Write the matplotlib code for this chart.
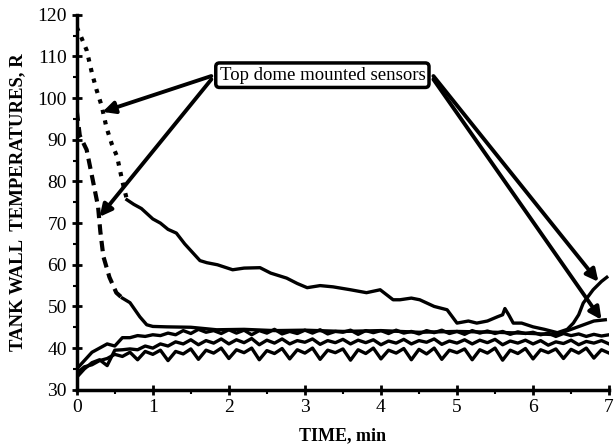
import numpy as np
import matplotlib
matplotlib.use("Agg")
import matplotlib.pyplot as plt
from matplotlib.ticker import MultipleLocator

plt.rcParams['font.family'] = ['Liberation Serif', 'DejaVu Serif']

# top dome sensor, slow decay (dotted at start)
a_t = [0, 0.05, 0.13, 0.2, 0.26, 0.33, 0.39, 0.46, 0.53, 0.6,
       0.66, 0.75, 0.85, 1.0, 1.1, 1.2, 1.31, 1.42, 1.53, 1.62,
       1.71, 1.85, 2.05, 2.2, 2.41, 2.55, 2.76, 2.9, 3.03, 3.2,
       3.37, 3.6, 3.81, 3.99, 4.16, 4.25, 4.4, 4.51, 4.7, 4.87,
       5.0, 5.15, 5.26, 5.4, 5.53, 5.6, 5.63, 5.68, 5.74, 5.85,
       6.0, 6.15, 6.32, 6.45, 6.53, 6.6, 6.66, 6.79, 6.9, 6.97]
a_v = [117, 115, 111.5, 106, 102, 98, 93, 89, 86, 80,
       75.6, 74.5, 73.5, 71, 70, 68.5, 67.6, 65, 62.8, 61,
       60.5, 60, 58.8, 59.2, 59.3, 58, 56.8, 55.5, 54.5, 55,
       54.7, 54, 53.3, 54, 51.6, 51.6, 52, 51.6, 50, 49.2,
       46, 46.5, 46, 46.5, 47.5, 48, 49.5, 48, 46, 46,
       45.1, 44.5, 43.7, 44.5, 46, 48, 50.8, 54, 56, 57]

# top dome sensor, fast decay (dashed at start)
b_t = [0, 0.04, 0.13, 0.21, 0.28, 0.31, 0.35, 0.43, 0.52, 0.6,
       0.7, 0.83, 0.92, 1.0, 1.18, 1.5, 1.84, 2.2, 2.6, 3.0,
       3.5, 4.0, 4.5, 5.0, 5.5, 6.0, 6.3, 6.5, 6.65, 6.8, 6.95]
b_v = [97, 91, 87.6, 80.4, 74, 68, 62, 57, 53.3, 52,
       50.9, 47.5, 45.6, 45.2, 45.1, 45, 44.4, 44.5, 44.2, 44.3,
       44, 44.2, 43.8, 44, 43.8, 43.5, 43.2, 44.5, 45.5, 46.5, 46.8]

# other wall sensors, sampled every 0.1 min
t = np.round(np.arange(0, 7.01, 0.1), 2)
c_v = [35, 37, 39, 40, 41, 40.5, 42.5, 42.5, 43, 42.8,
       43.2, 43, 43.6, 43.2, 44.2, 43.5, 44.5, 43.8, 44.2, 43.5,
       44.4, 43.6, 44.3, 43.2, 44.2, 43.6, 44.5, 43.4, 44.0, 43.5,
       44.3, 43.6, 44.4, 43.4, 44.0, 43.8, 44.3, 43.3, 44.2, 43.7,
       44.2, 43.5, 44.3, 43.6, 44.0, 43.4, 44.2, 43.7, 44.3, 43.5,
       44.0, 43.3, 44.2, 43.6, 44.1, 43.5, 44.0, 43.3, 43.9, 43.5,
       43.8, 43.2, 43.6, 42.8, 43.5, 43.0, 43.4, 42.8, 43.3, 42.9, 43.2]
d_v = [33, 35, 36.5, 37.2, 35.8, 39.5, 39.6, 39.8, 39.6, 40.5,
       40, 41, 40.5, 41.5, 41, 42, 40.8, 41.8, 41.2, 42.2,
       41, 42, 41.3, 42.3, 40.8, 41.9, 41.2, 42.2, 41, 41.8,
       41.4, 42.2, 40.9, 41.8, 41.3, 42.1, 41, 41.9, 41.3, 42,
       40.8, 41.7, 41.2, 42.1, 41, 41.8, 41.4, 42.2, 40.9, 41.7,
       41.2, 42, 41, 41.9, 41.3, 42.1, 40.8, 41.7, 41.2, 41.9,
       41, 41.8, 40.7, 41.5, 41.1, 41.9, 40.8, 41.6, 41.2, 41.8, 41]
e_v = [34, 35.5, 36, 37, 37.5, 38.5, 38, 39, 37.2, 39.2,
       38.5, 39.5, 37, 39.2, 38.6, 39.8, 37.3, 39.5, 38.8, 40,
       37.5, 39.6, 38.9, 40, 37.2, 39.4, 38.7, 39.9, 37.4, 39.6,
       38.8, 40, 37.3, 39.5, 38.9, 39.8, 37.1, 39.6, 38.7, 40,
       37.4, 39.5, 38.8, 39.9, 37.2, 39.7, 38.6, 40, 37.3, 39.5,
       38.9, 39.8, 37.2, 39.6, 38.8, 40, 37.1, 39.5, 38.7, 39.9,
       37.4, 39.6, 38.9, 39.8, 37.5, 39.7, 38.8, 40, 37.6, 39.6, 38.8]

fig = plt.figure(figsize=(6.14, 4.48), dpi=100)
ax = fig.add_axes([0.125, 0.13, 0.867, 0.837])

lw = 2.4
# dotted / dashed leading parts, solid after
na = 11
ax.plot(a_t[:na], a_v[:na], color='k', lw=lw + 0.6, ls=(0, (1, 1.6)))
ax.plot(a_t[na - 1:], a_v[na - 1:], color='k', lw=lw)
nb = 10
ax.plot(b_t[:nb], b_v[:nb], color='k', lw=lw + 0.6, ls=(0, (2.5, 1.5)))
ax.plot(b_t[nb - 1:], b_v[nb - 1:], color='k', lw=lw)
for v in (c_v, d_v, e_v):
    ax.plot(t, v, color='k', lw=lw)

ax.set_xlim(0, 7)
ax.set_ylim(30, 120)
ax.xaxis.set_major_locator(MultipleLocator(1))
ax.xaxis.set_minor_locator(MultipleLocator(0.5))
ax.yaxis.set_major_locator(MultipleLocator(10))
ax.yaxis.set_minor_locator(MultipleLocator(5))
ax.tick_params(which='major', direction='inout', length=7, width=2, labelsize=14)
ax.tick_params(which='minor', direction='out', length=3, width=1.5)
for s in ('top', 'right'):
    ax.spines[s].set_visible(False)
for s in ('left', 'bottom'):
    ax.spines[s].set_linewidth(2.5)

ax.set_xlabel('TIME, min', fontsize=13, fontweight='bold', labelpad=8)
ax.set_ylabel('TANK WALL  TEMPERATURES, R', fontsize=13.5, fontweight='bold', labelpad=8)

# annotation box with arrows
ax.text(3.23, 105.5, 'Top dome mounted sensors', fontsize=13.5, ha='center', va='center',
        bbox=dict(boxstyle='round,pad=0.2', fc='white', ec='k', lw=2.5), zorder=5)
arrow = dict(arrowstyle='-|>', lw=2.8, color='k', mutation_scale=18, shrinkA=0, shrinkB=0)
ax.annotate('', xy=(0.34, 96.7), xytext=(1.77, 105.3), arrowprops=arrow)
ax.annotate('', xy=(0.3, 71.5), xytext=(1.77, 104.5), arrowprops=arrow)
ax.annotate('', xy=(6.86, 55.9), xytext=(4.69, 105.3), arrowprops=arrow)
ax.annotate('', xy=(6.9, 46.8), xytext=(4.69, 104.5), arrowprops=arrow)

fig.savefig('out.png', dpi=100)
